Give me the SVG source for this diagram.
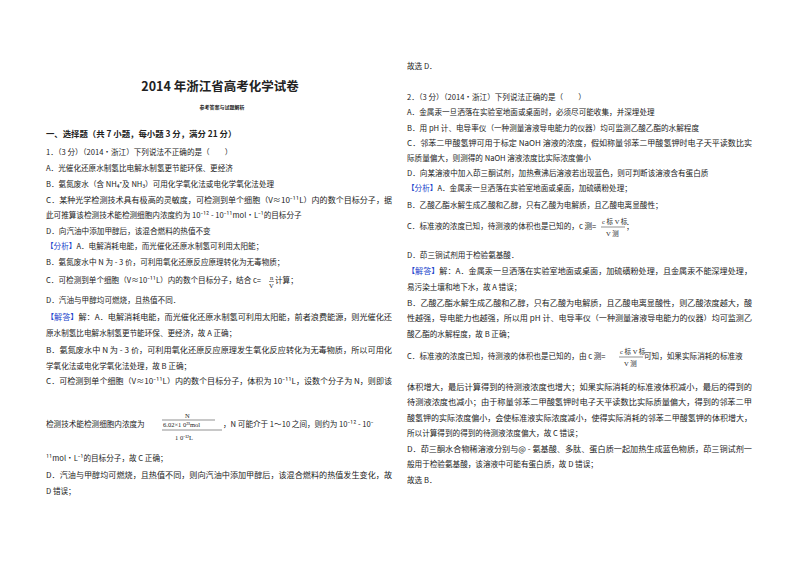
<svg xmlns="http://www.w3.org/2000/svg" width="800" height="566" viewBox="0 0 800 566">
<style>
text{font-family:"Noto Sans CJK SC","Noto Sans",sans-serif;font-size:7.6px;fill:#222}
.b{font-weight:bold}
.k{fill:#2244cc}
.s{font-size:5px}
.m{font-family:"Liberation Serif","Noto Sans CJK SC",serif;font-size:6.5px}
line{stroke:#222;stroke-width:0.5}
</style>
<rect width="800" height="566" fill="#fff"/>
<g id="left">
<text x="220" y="91" class="b" font-size="12.5" text-anchor="middle" style="font-size:12.5px">2014 年浙江省高考化学试卷</text>
<text x="222" y="109" class="b s" text-anchor="middle">参考答案与试题解析</text>
<text x="46" y="137" class="b" style="font-size:8.4px">一、选择题（共 7 小题，每小题 3 分，满分 21 分）</text>
<text x="46" y="155">1．（3 分）（2014•浙江）下列说法不正确的是（　　）</text>
<text x="46" y="171">A．光催化还原水制氢比电解水制氢更节能环保、更经济</text>
<text x="46" y="187">B．氨氮废水（含 NH₄⁺及 NH₃）可用化学氧化法或电化学氧化法处理</text>
<text x="46" y="203" textLength="346" lengthAdjust="spacingAndGlyphs">C．某种光学检测技术具有极高的灵敏度，可检测到单个细胞（V≈10⁻¹¹L）内的数个目标分子，据</text>
<text x="46" y="218">此可推算该检测技术能检测细胞内浓度约为 10⁻¹² - 10⁻¹¹mol•L⁻¹的目标分子</text>
<text x="46" y="234">D．向汽油中添加甲醇后，该混合燃料的热值不变</text>
<text x="46" y="249"><tspan class="k">【分析】</tspan>A．电解消耗电能，而光催化还原水制氢可利用太阳能；</text>
<text x="46" y="265">B．氨氮废水中 N 为 - 3 价，可利用氧化还原反应原理转化为无毒物质；</text>
<text x="46" y="283">C．可检测到单个细胞（V≈10⁻¹¹L）内的数个目标分子，结合 c=</text>
<text x="270" y="280" class="m">n</text><line x1="269" y1="281.5" x2="274" y2="281.5"/><text x="269" y="288" class="m">V</text>
<text x="275" y="283">计算；</text>
<text x="46" y="303">D．汽油与甲醇均可燃烧，且热值不同．</text>
<text x="46" y="320" textLength="346" lengthAdjust="spacingAndGlyphs"><tspan class="k">【解答】</tspan>解：A．电解消耗电能，而光催化还原水制氢可利用太阳能，前者浪费能源，则光催化还</text>
<text x="46" y="336">原水制氢比电解水制氢更节能环保、更经济，故 A 正确；</text>
<text x="46" y="353" textLength="346" lengthAdjust="spacingAndGlyphs">B．氨氮废水中 N 为 - 3 价，可利用氧化还原反应原理发生氧化反应转化为无毒物质，所以可用化</text>
<text x="46" y="369">学氧化法或电化学氧化法处理，故 B 正确；</text>
<text x="46" y="384" textLength="346" lengthAdjust="spacingAndGlyphs">C．可检测到单个细胞（V≈10⁻¹¹L）内的数个目标分子，体积为 10⁻¹¹L，设数个分子为 N，则即该</text>
<text x="46" y="427">检测技术能检测细胞内浓度为</text>
<text x="185" y="418" class="m">N</text>
<line x1="162" y1="420" x2="215" y2="420"/>
<text x="163" y="427" class="m">6.02×1 0²³mol</text>
<line x1="162" y1="430" x2="222" y2="430"/>
<text x="175" y="440" class="m">1 0⁻¹²L</text>
<text x="223" y="427">，N 可能介于 1～10 之间，则约为 10⁻¹² - 10⁻</text>
<text x="46" y="461">¹¹mol•L⁻¹的目标分子，故 C 正确；</text>
<text x="46" y="478" textLength="346" lengthAdjust="spacingAndGlyphs">D．汽油与甲醇均可燃烧，且热值不同，则向汽油中添加甲醇后，该混合燃料的热值发生变化，故</text>
<text x="46" y="494">D 错误；</text>
</g>
<g id="right">
<text x="407" y="69">故选 D．</text>
<text x="407" y="100">2．（3 分）（2014•浙江）下列说法正确的是（　　）</text>
<text x="407" y="115">A．金属汞一旦洒落在实验室地面或桌面时，必须尽可能收集，并深埋处理</text>
<text x="407" y="131">B．用 pH 计、电导率仪（一种测量溶液导电能力的仪器）均可监测乙酸乙酯的水解程度</text>
<text x="407" y="146" textLength="345" lengthAdjust="spacingAndGlyphs">C．邻苯二甲酸氢钾可用于标定 NaOH 溶液的浓度，假如称量邻苯二甲酸氢钾时电子天平读数比实</text>
<text x="407" y="161">际质量偏大，则测得的 NaOH 溶液浓度比实际浓度偏小</text>
<text x="407" y="176">D．向某溶液中加入茚三酮试剂，加热煮沸后溶液若出现蓝色，则可判断该溶液含有蛋白质</text>
<text x="407" y="191"><tspan class="k">【分析】</tspan>A．金属汞一旦洒落在实验室地面或桌面，加硫磺粉处理；</text>
<text x="407" y="208">B．乙酸乙酯水解生成乙酸和乙醇，只有乙酸为电解质，且乙酸电离显酸性；</text>
<text x="407" y="229">C．标准液的浓度已知，待测液的体积也是已知的，c 测=</text>
<text x="602" y="224" class="m">c 标 V 标</text><line x1="601" y1="227" x2="625" y2="227"/><text x="606" y="236" class="m">V 测</text>
<text x="626" y="229">；</text>
<text x="407" y="258">D．茚三铜试剂用于检验氨基酸．</text>
<text x="407" y="274" textLength="345" lengthAdjust="spacingAndGlyphs"><tspan class="k">【解答】</tspan>解：A．金属汞一旦洒落在实验室地面或桌面，加硫磺粉处理，且金属汞不能深埋处理，</text>
<text x="407" y="290">易污染土壤和地下水，故 A 错误；</text>
<text x="407" y="306" textLength="345" lengthAdjust="spacingAndGlyphs">B．乙酸乙酯水解生成乙酸和乙醇，只有乙酸为电解质，且乙酸电离显酸性，则乙酸浓度越大，酸</text>
<text x="407" y="321" textLength="345" lengthAdjust="spacingAndGlyphs">性越强，导电能力也越强，所以用 pH 计、电导率仪（一种测量溶液导电能力的仪器）均可监测乙</text>
<text x="407" y="337">酸乙酯的水解程度，故 B 正确；</text>
<text x="407" y="359">C．标准液的浓度已知，待测液的体积也是已知的，由 c 测=</text>
<text x="620" y="354" class="m">c 标 V 标</text><line x1="619" y1="357" x2="643" y2="357"/><text x="624" y="366" class="m">V 测</text>
<text x="644" y="359">可知，如果实际消耗的标准液</text>
<text x="407" y="390" textLength="345" lengthAdjust="spacingAndGlyphs">体积增大，最后计算得到的待测液浓度也增大；如果实际消耗的标准液体积减小，最后的得到的</text>
<text x="407" y="405" textLength="345" lengthAdjust="spacingAndGlyphs">待测液浓度也减小；由于称量邻苯二甲酸氢钾时电子天平读数比实际质量偏大，得到的邻苯二甲</text>
<text x="407" y="421" textLength="345" lengthAdjust="spacingAndGlyphs">酸氢钾的实际浓度偏小，会使标准液实际浓度减小，使得实际消耗的邻苯二甲酸氢钾的体积增大，</text>
<text x="407" y="436">所以计算得到的得到的待测液浓度偏大，故 C 错误；</text>
<text x="407" y="452" textLength="345" lengthAdjust="spacingAndGlyphs">D．茚三酮水合物稀溶液分别与@ - 氨基酸、多肽、蛋白质一起加热生成蓝色物质，茚三铜试剂一</text>
<text x="407" y="467">般用于检验氨基酸，该溶液中可能有蛋白质，故 D 错误；</text>
<text x="407" y="483">故选 B．</text>
</g>
</svg>
